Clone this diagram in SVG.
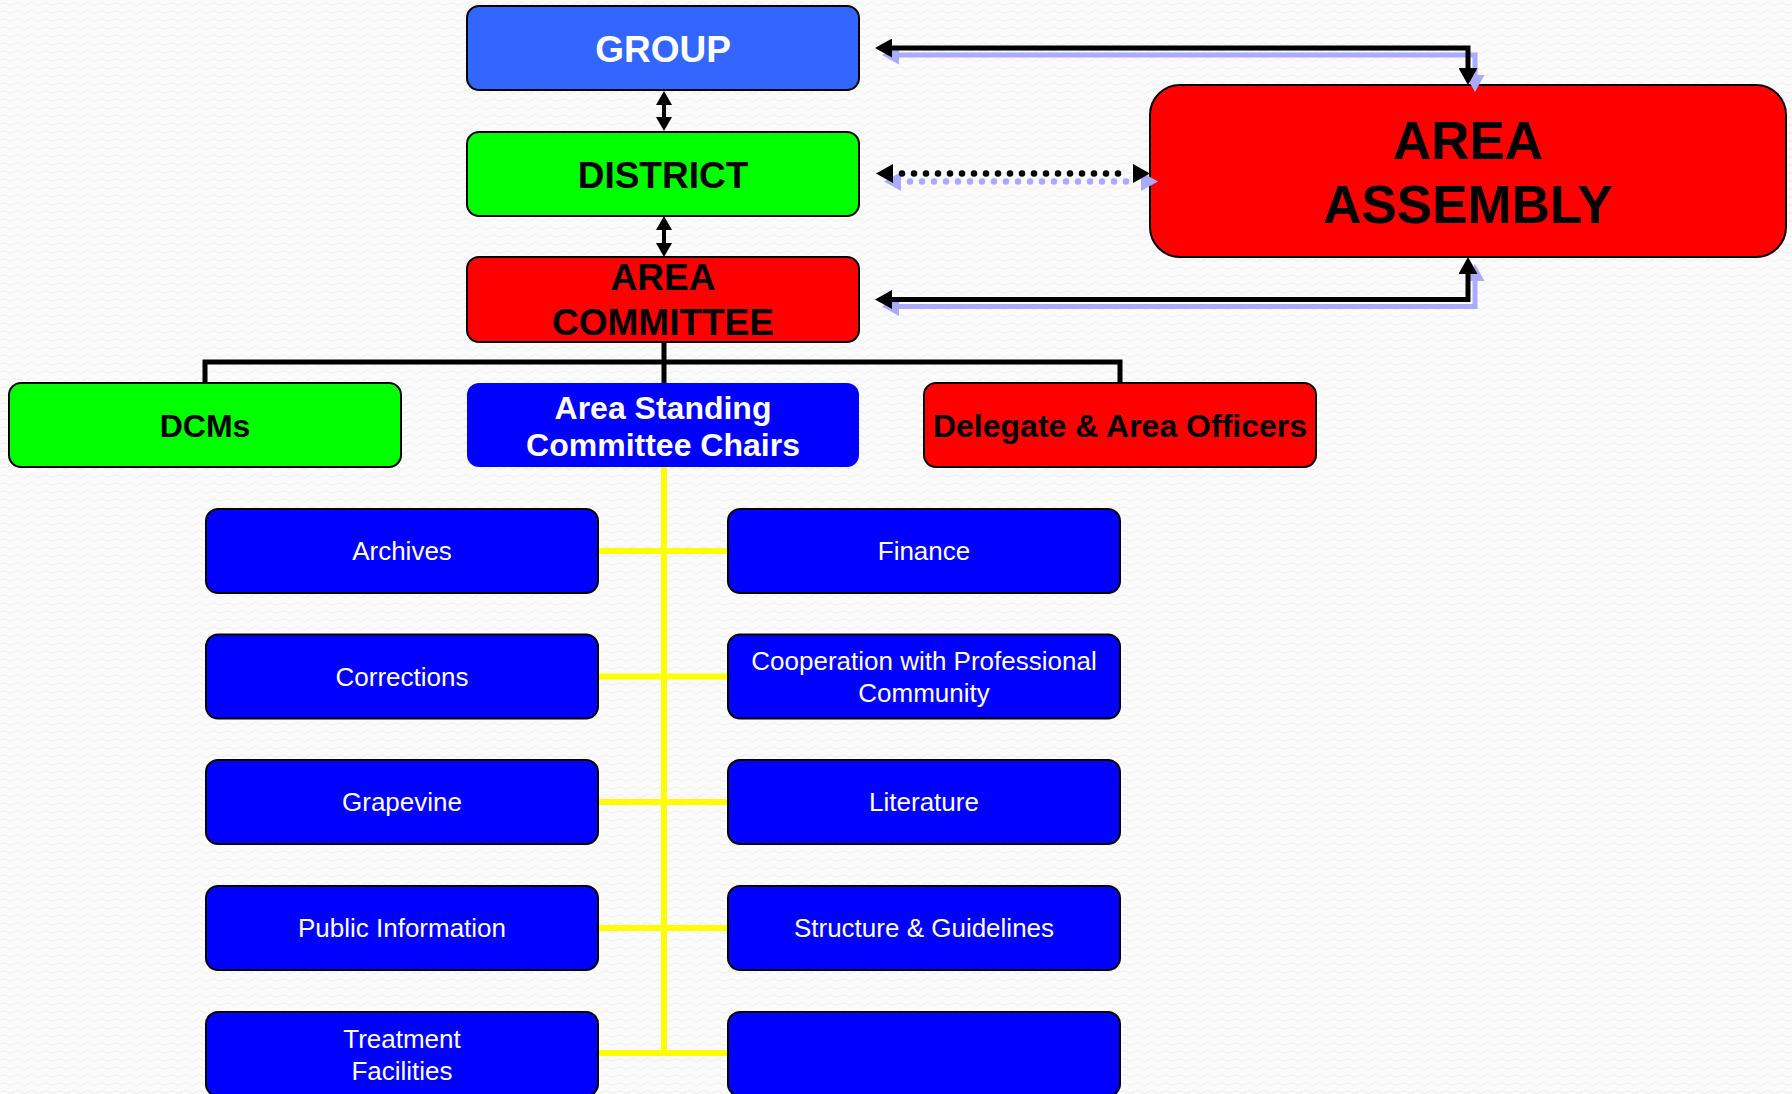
<svg xmlns="http://www.w3.org/2000/svg" width="1792" height="1094" viewBox="0 0 1792 1094">
<defs>
<pattern id="bgp" width="14" height="8" patternUnits="userSpaceOnUse">
<rect width="14" height="8" fill="#fbfbfb"/>
<path d="M0,4 Q3.5,1 7,4 T14,4" fill="none" stroke="#eeeeee" stroke-width="1"/>
</pattern>
<marker id="ah" markerUnits="userSpaceOnUse" markerWidth="17" markerHeight="19" viewBox="0 0 17 19" refX="5" refY="9.5" orient="auto-start-reverse"><path d="M0,0 L17,9.5 L0,19 z" fill="#000"/></marker>
<marker id="ahb" markerUnits="userSpaceOnUse" markerWidth="17" markerHeight="19" viewBox="0 0 17 19" refX="5" refY="9.5" orient="auto-start-reverse"><path d="M0,0 L17,9.5 L0,19 z" fill="#aaaaff"/></marker>
<marker id="as" markerUnits="userSpaceOnUse" markerWidth="14" markerHeight="16" viewBox="0 0 14 16" refX="4" refY="8" orient="auto-start-reverse"><path d="M0,0 L14,8 L0,16 z" fill="#000"/></marker>
</defs>
<style>
.box{stroke:#000;stroke-width:2}
.t{font-family:"Liberation Sans",Arial,Helvetica,sans-serif;text-anchor:middle}
.sm{font-size:26px;fill:#fff}
.mid{font-size:32px;font-weight:bold}
.big{font-size:37px;font-weight:bold}
.blue{fill:#0000ff}
.red{fill:#ff0000}
.green{fill:#00ff00}
.blk{fill:none;stroke:#000;stroke-width:5}
.shd{fill:none;stroke:#aaaaff;stroke-width:5}
.yel{fill:none;stroke:#ffff00;stroke-width:6}
.dots{fill:none;stroke-width:6.5;stroke-linecap:round;stroke-dasharray:0 12}
</style>
<rect width="1792" height="1094" fill="url(#bgp)"/>

<g id="connectors">
<path class="yel" d="M664,466 V1053 M598,551 H728 M598,676.5 H728 M598,802 H728 M598,928 H728 M598,1053 H728"/>
<path class="blk" d="M664,342 V383 M205,383 V362 H1120 V383"/>
<path d="M664,101 V121" fill="none" stroke="#000" stroke-width="4" marker-start="url(#as)" marker-end="url(#as)"/>
<path d="M664,226 V247" fill="none" stroke="#000" stroke-width="4" marker-start="url(#as)" marker-end="url(#as)"/>
</g>

<g id="node-group"><rect class="box" x="467" y="6" width="392" height="84" rx="12" fill="#3366ff"/><text class="t big" x="663" y="62" fill="#fff">GROUP</text></g>
<g id="node-district"><rect class="box green" x="467" y="132" width="392" height="84" rx="12"/><text class="t big" x="663" y="188" fill="#000">DISTRICT</text></g>
<g id="node-area-committee"><rect class="box red" x="467" y="257" width="392" height="85" rx="12"/><text class="t big" x="663" y="290" fill="#000">AREA</text><text class="t big" x="663" y="335" fill="#000">COMMITTEE</text></g>
<g id="node-area-assembly"><rect class="box red" x="1150" y="85" width="636" height="172" rx="30"/><text class="t" x="1468" y="159" font-size="53" font-weight="bold" fill="#000">AREA</text><text class="t" x="1468" y="223" font-size="53" font-weight="bold" fill="#000">ASSEMBLY</text></g>

<g id="assembly-links">
<path class="shd" d="M894,55 H1475 V80" marker-start="url(#ahb)" marker-end="url(#ahb)"/>
<path class="blk" d="M887,48 H1468 V73" marker-start="url(#ah)" marker-end="url(#ah)"/>
<path class="dots" d="M910,181.5 H1127" stroke="#aaaaff"/>
<path d="M896,181.5 H1146" fill="none" stroke="none" marker-start="url(#ahb)" marker-end="url(#ahb)"/>
<path class="dots" d="M902,173.5 H1119" stroke="#000"/>
<path d="M888,173.5 H1138" fill="none" stroke="none" marker-start="url(#ah)" marker-end="url(#ah)"/>
<path class="shd" d="M894,306.5 H1475 V276" marker-start="url(#ahb)" marker-end="url(#ahb)"/>
<path class="blk" d="M887,299.5 H1468 V269" marker-start="url(#ah)" marker-end="url(#ah)"/>
</g>

<g id="node-dcms"><rect class="box green" x="9" y="383" width="392" height="84" rx="12"/><text class="t mid" x="205" y="436.5" fill="#000">DCMs</text></g>
<g id="node-standing"><rect class="blue" x="467" y="383" width="392" height="84" rx="12"/><text class="t mid" x="663" y="418.5" fill="#fff">Area Standing</text><text class="t mid" x="663" y="456" fill="#fff">Committee Chairs</text></g>
<g id="node-delegate"><rect class="box red" x="924" y="383" width="392" height="84" rx="12"/><text class="t mid" x="1120" y="436.5" fill="#000">Delegate &amp; Area Officers</text></g>

<g id="node-archives"><rect class="box blue" x="206" y="509" width="392" height="84" rx="12"/><text class="t sm" x="402" y="560">Archives</text></g>
<g id="node-finance"><rect class="box blue" x="728" y="509" width="392" height="84" rx="12"/><text class="t sm" x="924" y="560">Finance</text></g>
<g id="node-corrections"><rect class="box blue" x="206" y="634.5" width="392" height="84" rx="12"/><text class="t sm" x="402" y="686">Corrections</text></g>
<g id="node-cpc"><rect class="box blue" x="728" y="634.5" width="392" height="84" rx="12"/><text class="t sm" x="924" y="670">Cooperation with Professional</text><text class="t sm" x="924" y="702">Community</text></g>
<g id="node-grapevine"><rect class="box blue" x="206" y="760" width="392" height="84" rx="12"/><text class="t sm" x="402" y="811">Grapevine</text></g>
<g id="node-literature"><rect class="box blue" x="728" y="760" width="392" height="84" rx="12"/><text class="t sm" x="924" y="811">Literature</text></g>
<g id="node-pi"><rect class="box blue" x="206" y="886" width="392" height="84" rx="12"/><text class="t sm" x="402" y="937">Public Information</text></g>
<g id="node-structure"><rect class="box blue" x="728" y="886" width="392" height="84" rx="12"/><text class="t sm" x="924" y="937">Structure &amp; Guidelines</text></g>
<g id="node-treatment"><rect class="box blue" x="206" y="1012" width="392" height="84" rx="12"/><text class="t sm" x="402" y="1048">Treatment</text><text class="t sm" x="402" y="1080">Facilities</text></g>
<g id="node-empty"><rect class="box blue" x="728" y="1012" width="392" height="84" rx="12"/></g>
</svg>
